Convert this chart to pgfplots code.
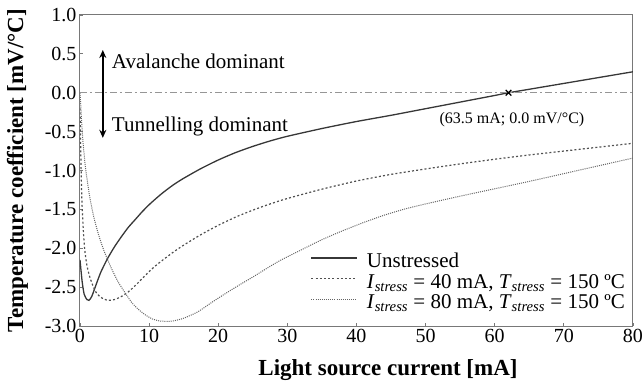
\documentclass[border=0pt]{standalone}
\usepackage{fontspec}
\setmainfont{Liberation Serif}
\usepackage{pgfplots}
\pgfplotsset{compat=1.18}
\usetikzlibrary{arrows.meta}
\definecolor{axgray}{RGB}{120,120,120}
\definecolor{c1}{RGB}{55,55,55}
\definecolor{c2}{RGB}{80,80,80}
\definecolor{c3}{RGB}{100,100,100}
\definecolor{zgray}{RGB}{150,150,150}
\newcommand{\Is}{\textit{I}\textsubscript{\textit{stress}}}
\newcommand{\Ts}{\textit{T}\textsubscript{\textit{stress}}}
\begin{document}
\begin{tikzpicture}
\begin{axis}[
  at={(0,0)}, anchor=south west,
  scale only axis, width=553bp, height=311bp,
  xmin=0, xmax=80, ymin=-3, ymax=1,
  xtick={0,10,20,30,40,50,60,70,80},
  ytick={-3,-2.5,-2,-1.5,-1,-0.5,0,0.5,1},
  tick align=inside, xtick pos=bottom, ytick pos=left,
  major tick length=3bp,
  axis line style={axgray, line width=1bp},
  tick style={axgray, line width=0.8bp},
  /pgf/number format/assume math mode=true,
  yticklabel style={/pgf/number format/fixed, /pgf/number format/precision=1, /pgf/number format/fixed zerofill},
  ticklabel style={font=\fontsize{20bp}{24bp}\selectfont},
  xlabel={\bfseries Light source current [mA]},
  ylabel={\bfseries Temperature coefficient [mV/°C]},
  xlabel style={font=\fontsize{23bp}{26bp}\selectfont, at={(axis description cs:0.557,-0.141)}, anchor=center},
  ylabel style={font=\fontsize{23bp}{26bp}\selectfont, at={(axis description cs:-0.113,0.5)}, anchor=center, rotate=0},
  legend style={draw=none, fill=none, at={(rel axis cs:0.9855,0.037)}, anchor=south east,
    font=\fontsize{21bp}{21bp}\selectfont, row sep=0bp, column sep=9bp, inner sep=0bp,
    nodes={text height=15bp, text depth=5.5bp, inner sep=0bp}},
  legend cell align=left,
  legend image code/.code={\draw[#1] (0bp,5bp) -- (46bp,5bp);},
]
\addplot[c1, line width=1.3bp, smooth, tension=0.4] coordinates {
(0,-2.15) (0.3,-2.42) (0.6,-2.59) (1.0,-2.66) (1.3,-2.67) (1.7,-2.62) (2.2,-2.50)
(3.0,-2.31) (4.0,-2.13) (5.0,-1.98) (6.0,-1.85) (7.0,-1.73) (8,-1.63) (9,-1.53)
(10,-1.44) (11,-1.36) (12,-1.285) (13.5,-1.185) (15,-1.10) (17.5,-0.975) (20,-0.865)
(22.5,-0.77) (25,-0.69) (27.5,-0.62) (30,-0.56) (35,-0.46) (40,-0.37) (45,-0.29)
(50,-0.205) (55,-0.12) (60,-0.035) (62,0.0) (65,0.045) (70,0.12) (75,0.195) (80,0.27)};
\addlegendentry{Unstressed}
\addplot[c2, line width=1.2bp, dash pattern=on 2bp off 2.2bp, smooth, tension=0.4] coordinates {
(0,-0.2) (0.1,-0.7) (0.2,-1.15) (0.3,-1.45) (0.5,-1.8) (0.7,-2.03) (1.0,-2.22)
(1.45,-2.38) (2.2,-2.55) (3.0,-2.63) (4.0,-2.67) (5.0,-2.66) (6.0,-2.62) (7,-2.56)
(8,-2.48) (9,-2.39) (10,-2.30) (11,-2.22) (12,-2.15) (13.5,-2.05) (15,-1.96)
(17.5,-1.825) (20,-1.705) (22.5,-1.60) (25,-1.51) (27.5,-1.43) (30,-1.36) (35,-1.24)
(40,-1.135) (45,-1.05) (50,-0.98) (55,-0.915) (60,-0.855) (65,-0.80) (70,-0.75)
(75,-0.70) (80,-0.65)};
\addlegendentry{\Is{} = 40 mA, \Ts{} = 150 ºC}
\addplot[c3, line width=1bp, dash pattern=on 1bp off 1.1bp, smooth, tension=0.4] coordinates {
(0,0.0) (0.1,-0.15) (0.25,-0.39) (0.45,-0.65) (0.72,-0.9) (1.0,-1.1) (1.45,-1.36)
(2.0,-1.6) (2.7,-1.83) (3.5,-2.04) (4.5,-2.25) (5.5,-2.43) (6.5,-2.57) (7.5,-2.70)
(8.5,-2.79) (9.5,-2.86) (10.5,-2.91) (11.5,-2.935) (12.5,-2.94) (13.5,-2.935)
(15,-2.90) (17,-2.82) (19,-2.70) (21,-2.585) (23,-2.475) (25,-2.37) (27,-2.26)
(29,-2.155) (31.8,-2.03) (35,-1.89) (38,-1.775) (41,-1.67) (44,-1.575) (47,-1.495)
(50,-1.43) (55,-1.33) (60,-1.235) (65,-1.14) (70,-1.04) (75,-0.94) (80,-0.84)};
\addlegendentry{\Is{} = 80 mA, \Ts{} = 150 ºC}
\addplot[zgray, line width=1bp, dash pattern=on 7bp off 3bp on 2bp off 3bp, forget plot] coordinates {(0,0) (80,0)};
\addplot[only marks, mark=x, mark size=4bp, black, line width=1.2bp, forget plot] coordinates {(62,0)};
\draw[black, line width=1.4bp, {Stealth[length=8bp,width=7bp]}-{Stealth[length=8bp,width=7bp]}] (axis cs:3.3,0.55) -- (axis cs:3.3,-0.58);
\node[anchor=base west, inner sep=0, font=\fontsize{21bp}{24bp}\selectfont] at (axis cs:4.6,0.31) {Avalanche dominant};
\node[anchor=base west, inner sep=0, font=\fontsize{21bp}{24bp}\selectfont] at (axis cs:4.6,-0.50) {Tunnelling dominant};
\node[anchor=base west, inner sep=0, font=\fontsize{16bp}{18bp}\selectfont] at (axis cs:52.0,-0.39) {(63.5 mA; 0.0 mV/°C)};
\end{axis}
\pgfresetboundingbox
\path (-80bp,-59bp) rectangle (564bp,326bp);
\end{tikzpicture}
\end{document}
